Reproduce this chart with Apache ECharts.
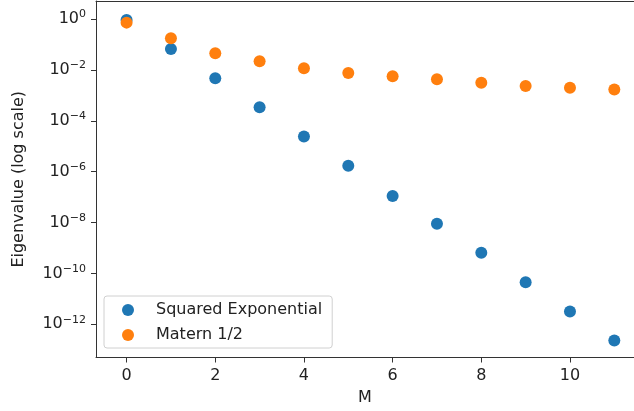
<!DOCTYPE html>
<html>
<head>
<meta charset="utf-8">
<script src="https://cdn.jsdelivr.net/npm/echarts@6/dist/echarts.min.js"></script>
<style>
  html, body { margin: 0; padding: 0; background: #fff; }
  #chart { width: 634px; height: 411px; }
</style>
</head>
<body>
<div id="chart"></div>
<script>
// Eigenvalue spectra of two kernels, index M on x, eigenvalue on a log y axis
const mValues = [0, 1, 2, 3, 4, 5, 6, 7, 8, 9, 10, 11];
const squaredExp = [0.91, 0.066, 4.7e-3, 3.4e-4, 2.4e-5, 1.7e-6, 1.1e-7, 8.9e-9, 6.5e-10, 4.5e-11, 3.2e-12, 2.3e-13];
const matern12 = [0.72, 0.174, 0.0447, 0.0218, 0.0115, 0.0075, 0.0056, 0.0043, 0.0031, 0.0023, 0.0020, 0.0017];
const xTicks = [0, 2, 4, 6, 8, 10];
const yTicks = [1e-12, 1e-10, 1e-8, 1e-6, 1e-4, 1e-2, 1];
const seriesNames = ['Squared Exponential', 'Matern 1/2'];

const FONT = '"DejaVu Sans", sans-serif';
const FS = 16;
const TEXT = '#222';
const AXIS = '#333';
const X_MIN = -0.69, X_MAX = 11.444;

function pairs(ys) {
  return mValues.map((m, i) => [m, ys[i]]);
}

function powerLabel(v) {
  const e = Math.round(Math.log10(v));
  const s = e < 0 ? '\u2212' + (-e) : String(e);
  return '10{sup|' + s + '}';
}

const chart = echarts.init(document.getElementById('chart'), null, { renderer: 'canvas' });
chart.setOption({
  animation: false,
  backgroundColor: '#fff',
  textStyle: { fontFamily: FONT, color: TEXT },
  grid: { left: 96, right: 0, top: 1, bottom: 53.5, show: false },
  xAxis: [
    {
      type: 'value', position: 'bottom',
      min: X_MIN, max: X_MAX,
      name: 'M', nameLocation: 'middle', nameGap: 32,
      nameTextStyle: { fontFamily: FONT, fontSize: FS, color: TEXT },
      axisLine: { show: true, onZero: false, lineStyle: { color: AXIS, width: 1 } },
      axisTick: { show: true, inside: false, length: 5, customValues: xTicks, lineStyle: { color: AXIS } },
      axisLabel: { customValues: xTicks, margin: 10, fontFamily: FONT, fontSize: FS, color: TEXT },
      splitLine: { show: false }
    },
    {
      // top frame line of the plot area
      type: 'value', position: 'top',
      min: X_MIN, max: X_MAX,
      axisLine: { show: true, onZero: false, lineStyle: { color: AXIS, width: 1 } },
      axisTick: { show: false }, axisLabel: { show: false }, splitLine: { show: false }
    }
  ],
  yAxis: {
    type: 'log', logBase: 10,
    min: Math.pow(10, -13.306), max: Math.pow(10, 0.7075),
    name: 'Eigenvalue (log scale)', nameLocation: 'middle', nameGap: 69,
    nameTextStyle: { fontFamily: FONT, fontSize: FS, color: TEXT },
    axisLine: { show: true, onZero: false, lineStyle: { color: AXIS, width: 1 } },
    axisTick: { show: true, inside: false, length: 5, customValues: yTicks, lineStyle: { color: AXIS } },
    axisLabel: {
      customValues: yTicks, margin: 10, fontFamily: FONT, fontSize: FS, color: TEXT,
      formatter: powerLabel,
      rich: { sup: { fontFamily: FONT, fontSize: 11, color: TEXT, padding: [0, 0, 9, 0] } }
    },
    splitLine: { show: false }
  },
  legend: {
    orient: 'vertical', left: 104, top: 296,
    data: seriesNames,
    backgroundColor: 'rgba(255,255,255,0.8)',
    borderColor: '#d0d0d0', borderWidth: 1, borderRadius: 3,
    padding: [5, 10, 4, 18],
    itemWidth: 20, itemHeight: 12, itemGap: 7,
    icon: 'circle',
    textStyle: { fontFamily: FONT, fontSize: FS, color: TEXT, lineHeight: 18, padding: [0, 0, 0, 13] }
  },
  series: [
    {
      name: seriesNames[0], type: 'scatter', symbol: 'circle', symbolSize: 12,
      xAxisIndex: 0,
      itemStyle: { color: '#1f77b4', opacity: 1 },
      data: pairs(squaredExp)
    },
    {
      name: seriesNames[1], type: 'scatter', symbol: 'circle', symbolSize: 12,
      xAxisIndex: 0,
      itemStyle: { color: '#ff7f0e', opacity: 1 },
      data: pairs(matern12)
    }
  ]
});
</script>
</body>
</html>
